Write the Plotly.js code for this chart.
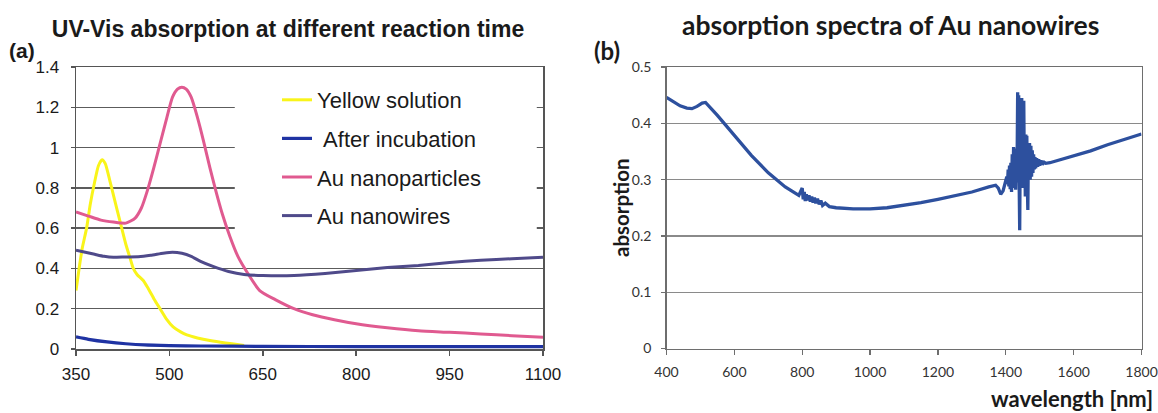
<!DOCTYPE html>
<html>
<head>
<meta charset="utf-8">
<script src="https://cdn.plot.ly/plotly-3.0.1.min.js"></script>
<style>html,body{margin:0;padding:0;background:#fff;}#chart{width:1158px;height:413px;}</style>
</head>
<body>
<div id="chart"></div>
<script>
// ---- Panel (a): UV-Vis absorption at different reaction time ----
const yellowX = [350,355,360,367,373,380,386,392,397,404,412,421,430,437,442,448,458,466,475,485,495,506,518,528,545,565,590,620];
const yellowY = [0.29,0.40,0.50,0.60,0.72,0.83,0.91,0.94,0.92,0.84,0.74,0.63,0.52,0.45,0.40,0.37,0.34,0.30,0.25,0.20,0.15,0.11,0.085,0.07,0.055,0.042,0.03,0.018];

const incubX = [350,370,400,430,460,500,550,650,800,950,1100];
const incubY = [0.06,0.048,0.035,0.026,0.02,0.017,0.015,0.013,0.012,0.012,0.012];

const npX = [350,370,390,410,430,445,455,465,475,485,496,505,513,520,527,535,545,555,565,575,585,597,610,625,645,670,700,730,765,800,850,900,950,1000,1050,1100];
const npY = [0.68,0.66,0.64,0.63,0.625,0.65,0.70,0.79,0.90,1.02,1.15,1.25,1.29,1.30,1.29,1.25,1.15,1.03,0.90,0.78,0.67,0.56,0.46,0.38,0.29,0.245,0.20,0.17,0.145,0.125,0.105,0.09,0.083,0.075,0.066,0.058];

const nwX = [350,365,380,395,410,430,450,470,490,505,520,535,550,570,595,620,650,700,750,800,850,900,950,1000,1050,1100];
const nwY = [0.49,0.48,0.47,0.46,0.455,0.457,0.458,0.465,0.475,0.48,0.475,0.46,0.435,0.41,0.385,0.37,0.365,0.365,0.375,0.39,0.405,0.415,0.43,0.44,0.448,0.455];

const seriesNamesA = ["Yellow solution", "\u00a0After incubation", "Au nanoparticles", "Au nanowires"];
const xTicksA = [350,500,650,800,950,1100];

// ---- Panel (b): absorption spectra of Au nanowires ----
const specX = [400,420,440,460,475,490,505,515,530,550,570,600,650,700,750,790,
  800,803,806,809,812,816,820,824,828,832,836,840,845,850,855,860,868,880,
  900,950,1000,1050,1100,1150,1200,1250,1300,1350,1370,1378,1385,1392,
  1400,1403,1405,1407,1409,1411,1413,1415,1417,1419,1421,1423,1425,1427,1429,1431,1433,1435,1436.5,1438,1439.5,1441,1442.5,1444,1445.5,1447,1448.5,1450,1451.5,1453,1454.5,1456,1457.5,1459,1460.5,1462,1463.5,1465,1466.5,1468,1470,1472,1474,1476,1478,1480,1482,1484,1486,1488,1491,1494,1497,1500,1504,1508,1513,1518,
  1530,1600,1650,1700,1750,1800];
const specY = [0.446,0.438,0.431,0.427,0.426,0.430,0.436,0.437,0.428,0.414,0.400,0.378,0.343,0.312,0.287,0.272,
  0.285,0.265,0.278,0.262,0.274,0.263,0.272,0.261,0.270,0.259,0.268,0.258,0.266,0.256,0.263,0.254,0.258,0.252,
  0.250,0.248,0.248,0.250,0.254,0.259,0.265,0.271,0.278,0.287,0.290,0.285,0.274,0.280,
  0.296,0.305,0.292,0.318,0.288,0.325,0.283,0.330,0.278,0.345,0.285,0.358,0.290,0.350,0.282,0.355,0.300,0.455,0.295,0.450,0.290,0.210,0.360,0.440,0.290,0.445,0.300,0.440,0.285,0.440,0.320,0.375,0.270,0.380,0.295,0.378,0.290,0.246,0.345,0.300,0.365,0.300,0.360,0.305,0.352,0.312,0.345,0.318,0.340,0.320,0.338,0.323,0.336,0.325,0.334,0.327,0.331,0.329,
  0.330,0.342,0.351,0.362,0.371,0.381];
const xTicksB = [400,600,800,1000,1200,1400,1600,1800];
const yTicksB = [0,0.1,0.2,0.3,0.4,0.5];

const W = 1158, H = 413;
const px = v => v / W;
const py = v => 1 - v / H;

const arialA = "Liberation Sans, Arial, Helvetica, sans-serif";
const lato = "Lato, Open Sans, sans-serif";

const traces = [
  {x: yellowX, y: yellowY, name: seriesNamesA[0], legendgroup: "g1", type: "scatter", mode: "lines",
   line: {color: "#f9f41a", width: 3, shape: "spline", smoothing: 0.6}, xaxis: "x", yaxis: "y"},
  {x: incubX, y: incubY, name: seriesNamesA[1], legendgroup: "g2", type: "scatter", mode: "lines",
   line: {color: "#1f33a3", width: 3.2, shape: "spline", smoothing: 0.6}, xaxis: "x", yaxis: "y"},
  {x: npX, y: npY, name: seriesNamesA[2], legendgroup: "g3", type: "scatter", mode: "lines",
   line: {color: "#e05a90", width: 3, shape: "spline", smoothing: 0.6}, xaxis: "x", yaxis: "y"},
  {x: nwX, y: nwY, name: seriesNamesA[3], legendgroup: "g4", type: "scatter", mode: "lines",
   line: {color: "#4f4a8a", width: 3, shape: "spline", smoothing: 0.5}, xaxis: "x", yaxis: "y"},
  {x: specX, y: specY, name: "Au nanowires spectrum", showlegend: false, type: "scatter", mode: "lines",
   line: {color: "#2d509e", width: 3.3}, xaxis: "x2", yaxis: "y2"}
];

const layout = {
  width: W, height: H, autosize: false,
  margin: {l: 0, r: 0, t: 0, b: 0},
  paper_bgcolor: "#ffffff", plot_bgcolor: "#ffffff",
  showlegend: true,
  title: {
    text: "<b>UV-Vis absorption at different reaction time</b>",
    x: px(288), xref: "paper", xanchor: "center",
    y: py(29), yref: "paper", yanchor: "middle",
    font: {family: arialA, size: 23, color: "#1a1a1a"}
  },
  legend: {
    x: px(277), xanchor: "left", y: py(79), yanchor: "top",
    bgcolor: "rgba(0,0,0,0)", borderwidth: 0,
    font: {family: arialA, size: 22, color: "#1a1a1a"},
    tracegroupgap: 7, traceorder: "grouped"
  },
  xaxis: {
    domain: [px(76), px(543)], range: [350, 1100], anchor: "y",
    tickmode: "array", tickvals: xTicksA, ticktext: xTicksA.map(String),
    showgrid: false, zeroline: false,
    showline: true, mirror: true, linecolor: "#555555", linewidth: 1.5,
    ticks: "outside", ticklen: 5, tickcolor: "#555555", tickwidth: 1.5,
    ticklabelstandoff: 4,
    tickfont: {family: arialA, size: 17, color: "#1a1a1a"}
  },
  yaxis: {
    domain: [1 - 349 / H, 1 - 67 / H], range: [0, 1.4], anchor: "x",
    dtick: 0.2, tick0: 0,
    showgrid: true, gridcolor: "#5c5c5c", gridwidth: 1.5, zeroline: false,
    showline: true, mirror: true, linecolor: "#555555", linewidth: 1.5,
    ticks: "outside", ticklen: 4, tickcolor: "#555555", tickwidth: 1.5,
    ticklabelstandoff: 8,
    tickfont: {family: arialA, size: 17, color: "#1a1a1a"}
  },
  xaxis2: {
    domain: [px(666.5), px(1141.5)], range: [400, 1800], anchor: "y2",
    tickmode: "array", tickvals: xTicksB, ticktext: xTicksB.map(String),
    showgrid: false, zeroline: false,
    showline: true, mirror: true, linecolor: "#6e6e6e", linewidth: 1.3,
    ticks: "outside", ticklen: 5, tickcolor: "#6e6e6e", tickwidth: 1.3,
    ticklabelstandoff: 5,
    tickfont: {family: lato, size: 14, color: "#333333"}
  },
  yaxis2: {
    domain: [1 - 348.5 / H, 1 - 67 / H], range: [0, 0.5], anchor: "x2",
    tickmode: "array", tickvals: yTicksB, ticktext: yTicksB.map(String),
    showgrid: true, gridcolor: "#8a8a8a", gridwidth: 1.3, zeroline: false,
    showline: true, mirror: true, linecolor: "#6e6e6e", linewidth: 1.3,
    ticks: "outside", ticklen: 4, tickcolor: "#6e6e6e", tickwidth: 1.3,
    ticklabelstandoff: 7,
    tickfont: {family: lato, size: 14, color: "#333333"}
  },
  shapes: [
    {type: "rect", xref: "x", yref: "y", x0: 605, x1: 1090, y0: 0.52, y1: 1.3,
     fillcolor: "#ffffff", line: {width: 0}, layer: "between"}
  ],
  annotations: [
    {text: "<b>(a)</b>", xref: "paper", yref: "paper", x: px(7), y: py(51),
     xanchor: "left", yanchor: "middle", showarrow: false,
     font: {family: arialA, size: 21, color: "#1a1a1a"}},
    {text: "<b>(b)</b>", xref: "paper", yref: "paper", x: px(592), y: py(50),
     xanchor: "left", yanchor: "middle", showarrow: false,
     font: {family: lato, size: 24, color: "#1a1a1a"}},
    {text: "<b>absorption spectra of Au nanowires</b>", xref: "paper", yref: "paper", x: px(890), y: py(25),
     xanchor: "center", yanchor: "middle", showarrow: false,
     font: {family: lato, size: 26.5, color: "#1a1a1a"}},
    {text: "<b>absorption</b>", xref: "paper", yref: "paper", x: px(621), y: py(208),
     xanchor: "center", yanchor: "middle", showarrow: false, textangle: -90,
     font: {family: lato, size: 20.5, color: "#1a1a1a"}},
    {text: "<b>wavelength [nm]</b>", xref: "paper", yref: "paper", x: px(1155), y: py(398),
     xanchor: "right", yanchor: "middle", showarrow: false,
     font: {family: lato, size: 22, color: "#1a1a1a"}}
  ]
};

Plotly.newPlot("chart", traces, layout, {displayModeBar: false, staticPlot: true});
</script>
</body>
</html>
